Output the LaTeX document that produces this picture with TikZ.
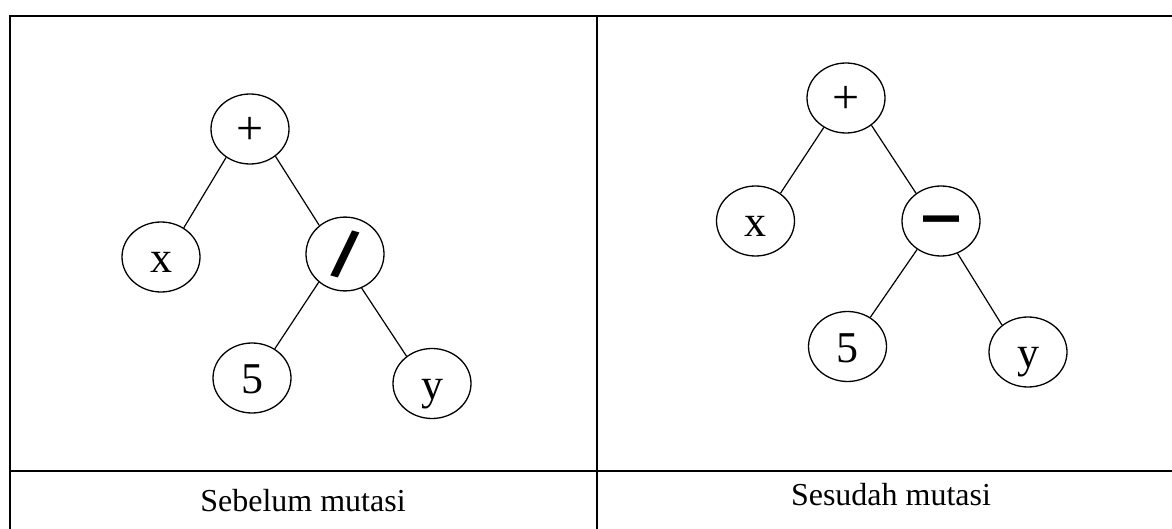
\documentclass[tikz,border=0pt]{standalone}
\usepackage{fontspec}
\usepackage{graphicx}
\setmainfont{Liberation Serif}
\newfontfamily\opfont{Liberation Sans}
\usetikzlibrary{shapes.geometric}

\begin{document}
\begin{tikzpicture}[x=0.5pt,y=-0.5pt,
  treenode/.style={ellipse, draw, line width=0.65pt, minimum width=39pt,
    minimum height=35pt, inner sep=0pt, text height=15.5pt, text depth=0pt,
    font=\fontsize{22}{22}\selectfont},
  freetext/.style={text height=, text depth=},
  link/.style={line width=0.6pt},
  tablerule/.style={line width=1.1pt},
  caption/.style={anchor=base, inner sep=0pt, font=\fontsize{16}{16}\selectfont}]

\useasboundingbox (0,0) rectangle (1172,529);

% table frame
\draw[tablerule] (10,529) -- (10,16) -- (1172,16);
\draw[tablerule] (597,16) -- (597,529);
\draw[tablerule] (10,471) -- (1172,471);

% tree before mutation
\node[treenode] (Lplus) at (250,129) {\fontsize{24}{24}\selectfont +};
\node[treenode] (Lx)    at (161,257) {x};
\node[treenode, freetext] (Ldiv) at (345,254) {\opfont\bfseries\fontsize{33}{33}\selectfont\rotatebox{-15}{/}};
\node[treenode] (L5)    at (252,378) {5};
\node[treenode] (Ly)    at (432,383.5) {y};

\draw[link] (Lplus.-130) -- (Lx.52);
\draw[link] (Lplus.-47) -- (Ldiv.132);
\draw[link] (Ldiv.-133) -- (L5.52);
\draw[link] (Ldiv.-64) -- (Ly.133);

% tree after mutation
\node[treenode] (Rplus)  at (846,98) {\fontsize{24}{24}\selectfont +};
\node[treenode] (Rx)     at (755.5,221) {x};
\node[treenode] (Rminus) at (941,221) {\opfont\bfseries\fontsize{18}{18}\selectfont\scalebox{1}[1.8]{—}};
\node[treenode] (R5)     at (847.5,346.5) {5};
\node[treenode] (Ry)     at (1028,352) {y};

\draw[link] (Rplus.-127) -- (Rx.48);
\draw[link] (Rplus.-47) -- (Rminus.132);
\draw[link] (Rminus.-130) -- (R5.52);
\draw[link] (Rminus.-63) -- (Ry.134);

% captions
\node[caption] (capL) at (303,511) {Sebelum mutasi};
\node[caption] (capR) at (891,505) {Sesudah mutasi};
\end{tikzpicture}
\end{document}
